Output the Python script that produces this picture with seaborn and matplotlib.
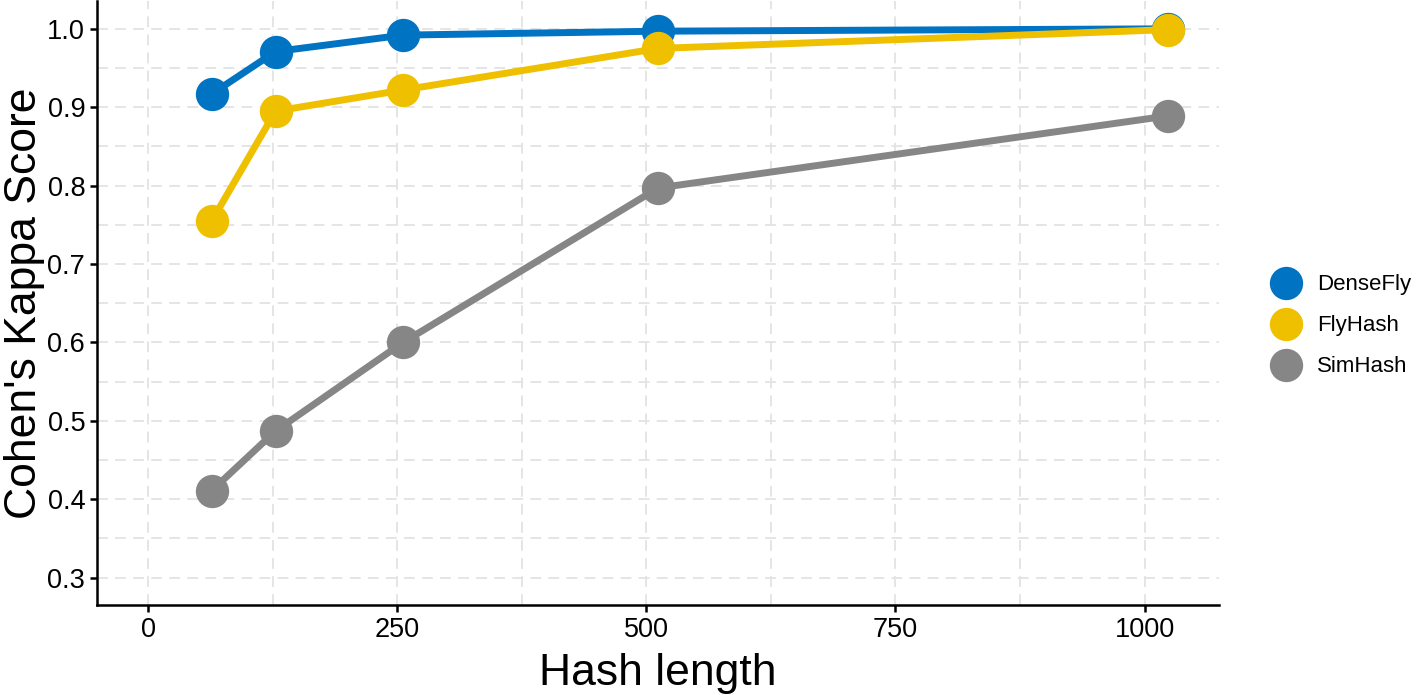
import pandas as pd
import matplotlib.pyplot as plt
import seaborn as sns
from matplotlib.lines import Line2D
from matplotlib.ticker import MultipleLocator

# Datos
hash_length = [64, 128, 256, 512, 1024]
densefly = [0.917, 0.971, 0.992, 0.997, 1.000]
flyhash = [0.755, 0.895, 0.922, 0.975, 0.999]
simhash = [0.411, 0.487, 0.600, 0.797, 0.889]
methods = ['DenseFly', 'FlyHash', 'SimHash']
colors = ['#0073C2', '#EFC000', '#868686']

df = pd.DataFrame({
    'hash': hash_length * 3,
    'kappa': densefly + flyhash + simhash,
    'method': [m for m in methods for _ in hash_length],
})

sns.set_style('white')
plt.rcParams['font.family'] = ['Liberation Sans', 'DejaVu Sans']

fig = plt.figure(figsize=(14.18, 6.95), dpi=100)
ax = fig.add_axes([0.0684, 0.1295, 0.7916, 0.8685])

sns.lineplot(data=df, x='hash', y='kappa', hue='method', hue_order=methods,
             palette=colors, marker='o', markersize=24, markeredgewidth=0,
             linewidth=5, legend=False, ax=ax, zorder=3)

ax.set_xlim(-51.2, 1075.2)
ax.set_ylim(0.265, 1.035)
ax.xaxis.set_major_locator(MultipleLocator(250))
ax.xaxis.set_minor_locator(MultipleLocator(125))
ax.set_yticks([0.3, 0.4, 0.5, 0.6, 0.7, 0.8, 0.9, 1.0])
ax.yaxis.set_minor_locator(MultipleLocator(0.05))
ax.grid(True, which='both', color='#e3e3e3', linestyle=(0, (6, 4)), linewidth=1.3, zorder=0)

for s in ['top', 'right']:
    ax.spines[s].set_visible(False)
for s in ['left', 'bottom']:
    ax.spines[s].set_linewidth(1.8)
    ax.spines[s].set_color('black')

ax.tick_params(which='major', direction='out', length=5, width=1.8, labelsize=19.5,
               colors='black', left=True, bottom=True)
ax.tick_params(which='minor', length=0)
ax.set_xlabel('Hash length', fontsize=32, labelpad=7, color='black')
ax.set_ylabel("Cohen's Kappa Score", fontsize=32, labelpad=2, color='black')

handles = [Line2D([], [], linestyle='none', marker='o', markersize=24,
                  markerfacecolor=c, markeredgewidth=0) for c in colors]
fig.legend(handles, methods, loc='center left', bbox_to_anchor=(0.880, 0.531),
           frameon=False, fontsize=16, handletextpad=0.4, labelspacing=0.9,
           labelcolor='black', borderpad=0.2)

plt.savefig('out.png', dpi=100)
